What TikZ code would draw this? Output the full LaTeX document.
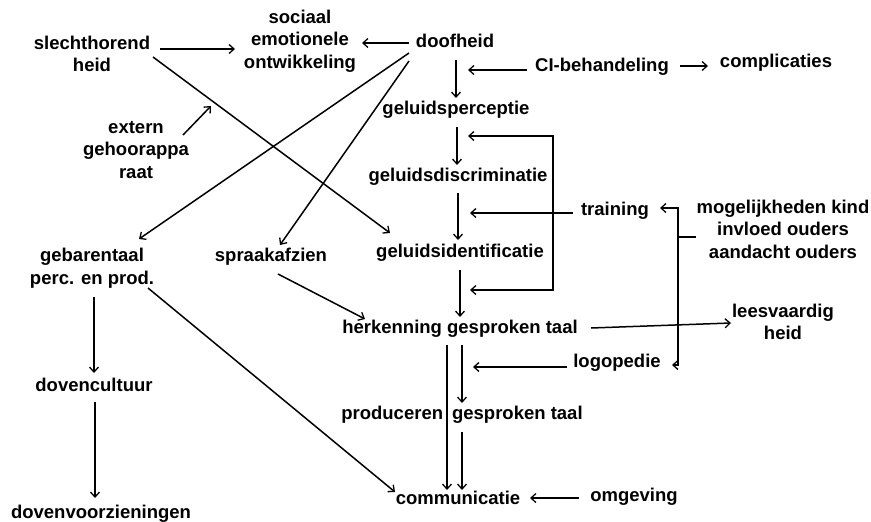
\documentclass[tikz,border=0pt]{standalone}
\usepackage{fontspec}
\setmainfont{Liberation Sans}
\usetikzlibrary{arrows.meta,calc}
\tikzset{
  lbl/.style={inner sep=0pt, font=\bfseries\fontsize{18.5}{22.5}\selectfont, text height=13pt, text depth=4pt},
  mlbl/.style={inner sep=0pt, align=center, font=\bfseries\fontsize{18.5}{22.5}\selectfont},
  conn/.style={line width=1.5pt, black},
  arr/.style={conn, -{Straight Barb[length=5pt,width=9pt,line width=1.3pt]}},
  arrboth/.style={conn, {Straight Barb[length=5pt,width=9pt,line width=1.3pt]}-{Straight Barb[length=5pt,width=9pt,line width=1.3pt]}}
}
\begin{document}
\begin{tikzpicture}[x=1pt,y=-1pt]
\useasboundingbox[fill=white] (0,0) rectangle (871,522);
% nodes
\node[mlbl] (sl)    at (92,54)  {slechthorend\\heid};
\node[mlbl] (soc)   at (300,41) {sociaal\\emotionele\\ontwikkeling};
\node[lbl]  (doof)  at (455,43) {doofheid};
\node[lbl]  (ci)    at (602,67) {CI-behandeling};
\node[lbl]  (compl) at (776,63) {complicaties};
\node[lbl]  (gp)    at (456,110) {geluidsperceptie};
\node[mlbl] (ext)   at (136,150) {extern\\gehoorappa\\raat};
\node[lbl]  (gd)    at (458,177) {geluidsdiscriminatie};
\node[lbl]  (train) at (615,211) {training};
\node[mlbl] (mog)   at (783,229) {mogelijkheden kind\\invloed ouders\\aandacht ouders};
\node[mlbl] (geb)   at (92,268) {gebarentaal\\perc. en prod.};
\node[lbl]  (spr)   at (271,257) {spraakafzien};
\node[lbl]  (gi)    at (460,253) {geluidsidentificatie};
\node[lbl]  (herk)  at (460,329) {herkenning gesproken taal};
\node[mlbl] (lees)  at (783,322) {leesvaardig\\heid};
\node[lbl]  (logo)  at (617,363) {logopedie};
\node[lbl]  (prod)  at (462,415) {produceren\hspace{9pt}gesproken taal};
\node[lbl]  (dovc)  at (94,387) {dovencultuur};
\node[lbl]  (comm)  at (458,500) {communicatie};
\node[lbl]  (omg)   at (634,497) {omgeving};
\node[lbl]  (dovv)  at (101,514) {dovenvoorzieningen};
% free-end coordinates
\coordinate (ciT) at (468,70);
\coordinate (bt)  at (468,136);
\coordinate (bl1) at (553,136);
\coordinate (bl2) at (553,290);
\coordinate (bb)  at (470,290);
\coordinate (trT) at (470,213);
\coordinate (rb0) at (678,237);
\coordinate (rb1) at (678,208);
\coordinate (rb2) at (678,365);
\coordinate (loT) at (473,367);
\coordinate (exT) at (211,106);
% main chain
\draw[arr] ($(doof)+(1,17)$) -- ($(gp)+(0,-12)$);
\draw[arr] ($(gp)+(1,17)$) -- ($(gd)+(-1,-12)$);
\draw[arr] ($(gd)+(0,16)$) -- ($(gi)+(-2,-13)$);
\draw[arr] ($(gi)+(0,17)$) -- ($(herk)+(0,-12)$);
\draw[arr] ($(herk)+(-13,16)$) -- ($(comm)+(-11,-10)$);
\draw[arr] ($(herk)+(2,16)$) -- ($(prod)+(0,-12)$);
\draw[arr] ($(prod)+(0,17)$) -- ($(comm)+(4,-10)$);
% CI
\draw[arr] ($(ci)+(-75,3)$) -- (ciT);
\draw[arr] ($(ci)+(78,-1)$) -- ($(compl)+(-68,3)$);
% training bracket
\draw[arrboth] (bt) -- (bl1) -- (bl2) -- (bb);
\draw[arr] ($(train)+(-42,2)$) -- (trT);
% right bracket
\draw[conn] ($(mog)+(-87,8)$) -- (rb0);
\draw[arrboth] ($(train)+(45,-3)$) -- (rb1) -- (rb2) -- ($(logo)+(55,2)$);
\draw[arr] ($(logo)+(-50,4)$) -- (loT);
% others
\draw[arr] ($(herk)+(131,-1)$) -- ($(lees)+(-52,1)$);
\draw[arr] ($(omg)+(-55,1)$) -- ($(comm)+(72,-2)$);
\draw[arr] ($(sl)+(68,-5)$) -- ($(soc)+(-65,8)$);
\draw[arr] ($(doof)+(-46,0)$) -- ($(soc)+(62,2)$);
\draw[arr] ($(sl)+(61,3)$) -- ($(gi)+(-70,-20)$);
\draw[arr] ($(doof)+(-46,10)$) -- ($(geb)+(47,-29)$);
\draw[arr] ($(doof)+(-46,18)$) -- ($(spr)+(9,-12)$);
\draw[arr] ($(ext)+(47,-15)$) -- (exT);
\draw[arr] ($(spr)+(7,17)$) -- ($(herk)+(-95,-10)$);
\draw[arr] ($(geb)+(56,20)$) -- ($(comm)+(-63,-8)$);
\draw[arr] ($(geb)+(2,29)$) -- ($(dovc)+(0,-14)$);
\draw[arr] ($(dovc)+(1,15)$) -- ($(dovv)+(-6,-16)$);
\end{tikzpicture}
\end{document}
